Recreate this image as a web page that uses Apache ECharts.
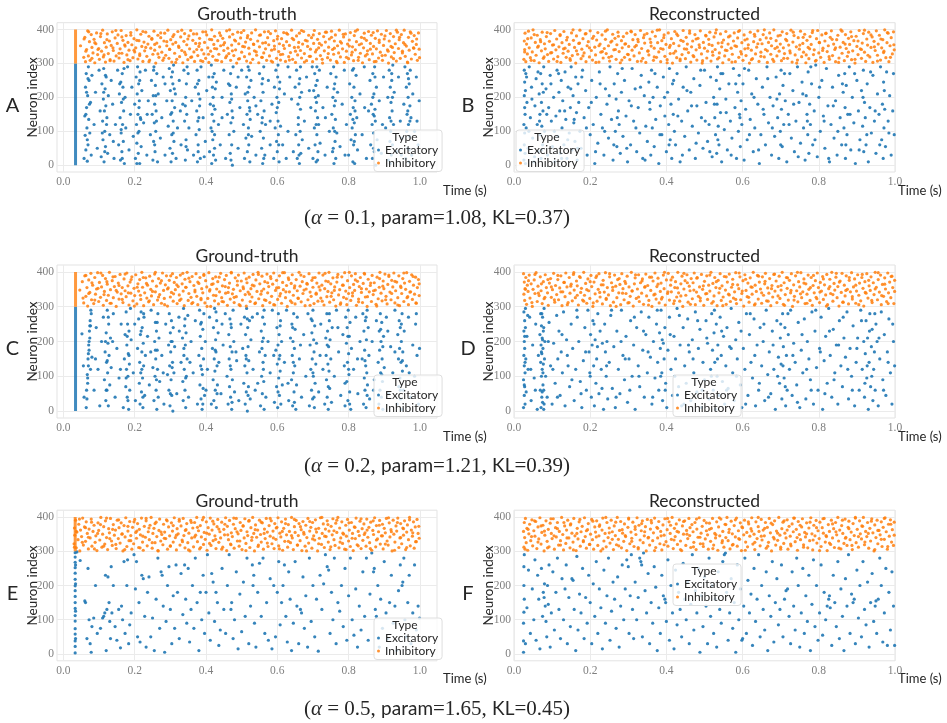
<!DOCTYPE html>
<html><head><meta charset="utf-8">
<script src="https://cdn.jsdelivr.net/npm/echarts@6.0.0/dist/echarts.min.js"></script>
<style>html,body{margin:0;padding:0;background:#fff}#c{width:947px;height:723px}</style>
</head><body><div id="c"></div><script>
// ---------- data (time in ms, neuron index), flattened pairs ----------
const xTicks = [0, 0.2, 0.4, 0.6, 0.8, 1.0];
const yTicks = [0, 100, 200, 300, 400];
const panelTitles = ['Grouth-truth','Reconstructed','Ground-truth','Reconstructed','Ground-truth','Reconstructed'];
const panelLetters = ['A','B','C','D','E','F'];
const alphas = [0.1, 0.2, 0.5];
const params = [1.08, 1.21, 1.65];
const kls = [0.37, 0.39, 0.45];
// synchronous burst column: [time ms, excitatory from, excitatory to, inhibitory from, inhibitory to]
const burstA = [34, 0, 300, 300, 400];
const burstC = [34, 0, 300, 300, 400];
const burstE = [33, null, null, 300, 400];

const aInh = [48,352,57,318,60,377,62,305,65,341,68,396,70,322,73,364,75,309,78,385,80,347,83,331,86,371,88,302,91,358,93,390,96,326,99,344,101,312,104,379,107,336,110,398,112,319,115,361,118,304,120,348,123,387,126,329,129,366,131,311,134,353,137,393,140,338,142,307,145,375,148,322,151,359,153,384,156,316,159,343,162,397,164,330,167,368,170,303,173,351,176,382,178,325,181,362,184,339,187,308,189,391,192,355,195,317,198,373,200,334,203,346,206,399,209,313,212,367,214,328,217,386,220,350,223,306,226,363,228,337,231,392,234,321,237,357,240,380,242,310,245,345,248,371,251,327,254,395,256,339,259,301,262,360,265,383,268,318,270,349,273,376,276,333,279,309,282,366,284,389,287,324,290,352,293,398,296,315,298,341,301,370,304,304,307,357,310,385,312,330,315,362,318,312,321,394,324,347,326,320,329,378,332,338,335,302,338,365,340,388,343,326,346,355,349,311,352,381,354,343,357,397,360,319,363,368,366,334,368,306,371,359,374,387,377,323,380,350,382,374,385,308,388,340,391,393,394,328,396,362,399,315,402,384,405,346,408,303,410,371,413,336,416,399,419,321,422,356,424,380,427,310,430,343,433,367,436,327,438,390,441,352,444,305,447,374,450,338,452,361,455,317,458,396,461,345,464,329,466,378,469,309,472,354,475,386,478,323,480,369,483,340,486,301,489,392,492,358,494,314,497,375,500,333,503,350,506,397,508,320,511,363,514,307,517,382,520,345,522,328,525,371,528,390,531,312,534,356,536,337,539,399,542,324,545,366,548,302,550,349,553,384,556,318,559,360,562,331,564,393,567,343,570,309,573,376,576,355,578,322,581,388,584,339,587,304,590,367,592,351,595,396,598,315,601,380,604,335,606,358,609,310,612,373,615,327,618,391,620,344,623,306,626,364,629,386,632,320,634,353,637,332,640,398,643,312,646,370,648,347,651,303,654,381,657,325,660,362,662,389,665,338,668,316,671,357,674,394,676,329,679,368,682,308,685,350,688,383,690,321,693,342,696,376,699,305,702,359,704,397,707,334,710,313,713,371,716,346,718,388,721,323,724,354,727,301,730,379,732,337,735,363,738,392,741,317,744,348,746,372,749,310,752,395,755,341,758,327,760,366,763,384,766,306,769,352,772,331,774,398,777,319,780,360,783,343,786,378,788,303,791,387,794,336,797,357,800,314,802,369,805,391,808,325,811,349,814,308,816,382,819,340,822,364,825,399,828,318,830,355,833,330,836,377,839,302,842,346,844,389,847,322,850,368,853,337,856,394,858,311,861,359,864,383,867,328,870,350,872,305,875,374,878,343,881,396,884,316,886,362,889,333,892,386,895,309,898,353,900,372,903,324,906,397,909,340,912,301,914,366,917,388,920,319,923,347,926,379,928,332,931,358,934,307,937,392,940,344,942,370,945,315,948,385,951,336,954,361,956,398,959,321,962,351,965,304,968,377,970,339,973,393,976,313,979,365,982,346,984,382,987,327,990,356,993,309,996,390,998,342];
const aInh2 = [999,317,991,372,983,345,975,389,966,302,958,356,951,331,943,377,934,398,926,314,919,350,911,336,902,381,894,323,886,369,877,306,869,391,861,342,852,327,844,374,836,358,827,309,819,395,810,333,802,351,794,318,785,386,777,364,768,302,760,345,752,377,743,329,735,392,726,312,718,359,710,340,701,384,693,321,684,366,676,304,668,397,659,348,651,336,642,374,634,310,626,389,617,353,609,326,600,372,592,342,583,307,575,394,567,361,558,318,550,383,541,334,533,357,525,302,516,376,508,349,499,391,491,313,483,366,474,337,466,399,458,322,449,355,441,382,432,309,424,344,416,370,407,327,399,393,391,306,382,359,374,341,365,387,357,318,349,372,340,333,332,398,323,351,315,303,307,379,298,342,290,364,282,316,273,390,265,328,256,356,248,374,240,305,231,347,223,394,214,323,206,368,198,339,189,383,181,311,172,355,164,378,156,330,147,397,139,346,131,308,122,370,114,325,105,388,97,341,88,361,80,315,71,393,63,336,58,372];

const aExc = [58,20,60,145,61,88,62,230,63,45,64,270,65,170,66,110,67,12,68,205,69,60,70,290,71,135,72,250,74,95,76,185,78,30,80,265,86,120,90,215,95,50,100,280,103,160,106,25,108,240,110,130,111,75,112,195,113,285,114,10,115,160,116,100,117,225,118,55,119,175,120,260,122,140,124,35,126,205,130,90,134,250,138,180,142,20,146,120,152,280,155,60,157,210,159,140,160,15,161,245,162,95,163,185,164,40,165,270,166,120,167,230,168,70,169,160,171,5,173,200,175,110,180,290,184,45,188,150,192,230,196,85,200,180,202,20,204,260,205,120,206,65,207,210,208,290,209,150,210,35,211,240,212,100,213,190,214,5,215,275,216,140,218,55,220,220,225,125,230,280,234,30,238,190,244,90,247,250,249,150,251,15,252,205,253,70,254,290,255,125,256,180,257,40,258,235,259,100,260,160,262,270,264,10,266,210,272,80,276,140,280,260,285,30,290,190,294,115,297,285,299,50,300,220,301,150,302,10,303,260,304,90,305,190,306,35,307,240,308,130,309,295,310,70,312,170,314,210,316,20,320,110,325,250,330,60,335,180,338,280,340,130,342,15,343,200,344,75,345,240,346,150,348,45,350,270,352,110,360,190,365,30,370,230,372,90,374,160,375,280,376,10,377,130,378,60,379,210,380,250,381,105,382,175,384,20,386,290,392,140,398,70,402,220,408,260,410,40,412,180,414,110,415,295,416,5,417,150,418,230,419,75,420,200,421,30,422,130,423,270,424,90,425,165,427,15,429,245,435,120,440,60,445,200,450,280,455,20,460,150,463,240,465,90,467,185,468,35,469,270,470,125,471,210,472,60,473,160,474,0,476,290,478,100,485,230,490,50,495,170,500,280,505,120,508,20,510,210,512,80,514,260,515,150,516,40,517,190,518,290,519,110,520,60,521,230,522,170,523,10,524,135,526,250,528,85,535,200,540,30,545,150,550,270,552,100,554,190,556,50,557,240,558,140,559,5,560,215,561,80,562,290,563,160,565,30,567,120,575,250,580,60,585,180,590,20,592,230,594,110,596,280,597,155,598,70,599,200,600,40,601,260,602,130,603,90,604,185,605,10,607,245,609,115,615,60,620,210,625,20,630,100,635,260,640,195,645,40,650,230,652,90,654,280,656,20,658,180,659,120,660,60,661,240,662,5,663,200,664,100,665,290,666,35,668,215,670,75,676,130,682,260,688,50,694,170,698,290,700,20,702,220,704,110,705,270,706,60,707,160,708,235,709,10,710,185,711,90,712,250,713,140,714,40,715,205,716,120,718,280,720,65,728,170,734,30,740,230,746,100,750,270,753,150,755,40,756,200,757,110,758,290,759,5,760,175,761,240,762,70,763,135,764,20,765,260,767,95,769,215,776,55,782,180,788,280,794,120,800,30,803,240,805,150,807,75,809,200,810,110,811,280,812,10,813,170,814,60,815,230,816,125,817,5,818,190,819,90,821,265,823,140,825,45,832,210,838,90,844,290,850,20,856,160,860,250,862,60,864,180,866,120,867,20,868,270,869,150,870,95,871,210,872,40,873,290,874,165,875,130,876,0,878,230,880,75,886,190,892,35,898,260,904,110,910,200,912,15,914,280,915,140,916,70,917,230,918,100,919,185,920,30,921,250,922,160,923,60,924,295,926,120,928,215,935,40,940,260,945,130,950,80,955,180,958,290,960,20,962,230,963,100,964,150,965,270,966,50,967,200,968,120,969,10,970,240,971,85,972,175,973,280,975,140,977,30,980,210,985,100,990,260,995,60,998,190];
const aExc2 = [63,150,65,215,67,75,69,255,73,180,109,95,113,215,116,40,118,265,121,120,158,240,162,105,165,20,168,195,170,285,206,5,209,95,212,170,214,250,217,135,253,280,256,60,259,205,261,130,304,155,306,275,308,95,311,225,342,175,344,55,347,290,376,240,378,40,380,140,383,195,417,100,419,260,421,175,424,50,426,225,467,235,470,15,472,195,475,140,517,215,519,90,521,280,523,160,557,125,559,255,562,20,600,170,602,295,604,60,606,225,659,140,661,30,663,255,665,165,707,200,709,120,711,290,713,15,757,50,759,225,761,100,763,190,812,135,814,285,816,70,818,160,868,200,870,50,872,145,874,260,917,5,919,130,921,270,923,200,966,160,968,255,970,45,972,130,140,70,235,150,285,240,328,160,395,25,445,140,490,260,540,175,580,130,630,290,690,220,735,140,790,30,845,170,895,120,948,30,992,130];

const bInh = [26,312,27,366,28,341,29,389,31,305,33,357,35,328,38,395,40,346,43,317,45,375,48,334,50,399,53,308,56,362,58,324,61,383,64,351,66,302,69,370,72,337,74,392,77,315,80,358,82,343,85,379,88,326,91,306,93,365,96,388,99,332,101,354,104,313,107,397,110,340,112,372,115,320,118,349,121,385,123,303,126,361,129,330,131,394,134,345,137,318,140,377,142,336,145,356,148,309,151,390,153,323,156,368,159,347,162,301,164,381,167,327,170,359,173,398,176,314,178,342,181,373,184,331,187,387,189,305,192,352,195,364,198,319,200,396,203,338,206,310,209,380,212,348,214,325,217,369,220,391,223,304,226,357,228,333,231,384,234,316,237,344,240,371,242,329,245,399,248,352,251,307,254,363,256,321,259,386,262,340,265,374,268,312,270,355,273,392,276,335,279,302,282,367,284,346,287,379,290,318,293,358,296,389,298,327,301,350,304,311,307,395,310,339,312,370,315,322,318,385,321,353,324,306,326,364,329,331,332,397,335,344,338,315,340,376,343,360,346,303,349,388,352,337,354,325,357,372,360,351,363,393,366,309,368,345,371,380,374,318,377,361,380,334,382,399,385,305,388,367,391,342,394,384,396,321,399,356,402,311,405,390,408,347,410,329,413,373,416,301,419,359,422,394,424,336,427,317,430,382,433,352,436,308,438,368,441,326,444,397,447,343,450,314,452,377,455,357,458,332,461,389,464,304,466,349,469,366,472,320,475,385,478,340,480,310,483,374,486,355,489,396,492,328,494,301,497,362,500,345,503,383,506,316,508,336,511,371,514,392,517,307,520,353,522,324,525,378,528,341,531,399,534,313,536,360,539,331,542,387,545,349,548,302,550,369,553,322,556,394,559,338,562,357,564,311,567,381,570,345,573,327,576,366,578,390,581,305,584,350,587,375,590,318,592,397,595,335,598,361,601,309,604,384,606,343,609,323,612,372,615,355,618,301,620,392,623,339,626,314,629,364,632,380,634,328,637,348,640,396,643,306,646,370,648,333,651,358,654,385,657,319,660,341,662,375,665,303,668,362,671,390,674,327,676,352,679,312,682,399,685,344,688,367,690,322,693,381,696,336,699,357,702,308,704,393,707,346,710,329,713,371,716,388,718,315,721,354,724,337,727,398,730,304,732,363,735,382,738,325,741,349,744,310,746,376,749,342,752,395,755,320,758,359,760,333,763,386,766,302,769,368,772,347,774,314,777,379,780,356,783,391,786,326,788,340,791,307,794,373,797,397,800,331,802,361,805,318,808,384,811,345,814,303,816,366,819,389,822,335,825,352,828,312,830,377,833,396,836,323,839,357,842,341,844,305,847,370,850,383,853,316,856,348,858,399,861,330,864,362,867,308,870,385,872,344,875,321,878,374,881,356,884,393,886,311,889,337,892,367,895,301,898,380,900,350,903,326,906,397,909,343,912,315,914,360,917,388,920,333,923,306,926,372,928,354,931,392,934,319,937,347,940,378,942,303,945,365,948,338,951,396,954,324,956,357,959,383,962,310,965,346,968,370,970,332,973,399,976,317,979,361,982,389,984,305,987,352,990,376,993,328,996,393,998,340];
const bInh2 = [997,355,988,318,980,391,971,336,963,372,954,307,946,349,937,384,929,324,920,398,912,341,903,366,895,312,886,379,878,333,869,357,861,395,852,303,844,346,835,371,827,320,818,388,810,338,801,362,793,309,784,397,776,343,767,325,759,377,750,354,742,301,733,392,725,331,716,367,708,315,699,383,691,348,682,306,674,374,665,337,657,399,648,321,640,358,631,386,623,311,614,345,606,369,597,328,589,394,580,352,572,304,563,378,555,339,546,361,538,317,529,390,521,334,512,356,504,381,495,308,487,347,478,372,470,323,461,396,453,342,444,365,436,313,427,387,419,330,410,353,402,302,393,376,385,344,376,398,368,319,359,362,351,336,342,384,334,307,325,371,317,349,308,393,300,326,291,357,283,310,274,380,266,341,257,366,249,318,240,395,232,335,223,352,215,303,206,374,198,346,189,388,181,322,172,360,164,337,155,399,147,314,138,369,130,343,121,382,113,306,104,355,96,331,87,391,79,319,70,364,62,348,53,385,45,309,36,373,28,334];

const bExc = [26,15,26,120,27,205,27,60,27,280,28,170,28,95,28,245,29,35,29,150,30,220,30,5,31,270,32,110,34,185,37,50,40,290,43,140,46,230,49,80,52,10,55,175,58,255,61,120,64,40,66,210,68,150,69,90,70,270,71,20,72,185,73,115,74,240,75,60,76,160,78,290,80,100,84,225,88,30,91,170,95,265,98,130,101,55,104,200,107,10,110,145,113,280,115,85,118,215,120,160,122,35,124,250,126,110,128,190,131,60,134,275,136,135,139,20,142,230,145,95,148,170,150,290,152,45,155,205,157,125,160,70,162,260,164,155,166,15,168,240,170,185,173,100,176,50,180,280,184,140,188,220,192,30,196,170,200,90,204,250,208,120,212,5,216,200,220,65,224,275,228,150,232,110,236,30,240,225,244,180,248,80,252,290,256,135,260,15,263,240,266,100,268,195,270,55,272,270,274,160,276,120,279,35,282,215,286,85,290,250,294,145,298,10,302,190,306,60,310,285,314,130,318,225,322,40,326,170,330,95,334,265,338,20,342,205,346,115,350,70,354,245,357,165,359,30,361,280,363,110,365,200,368,55,372,135,376,230,380,5,384,175,388,90,392,260,396,145,400,40,403,215,406,120,408,285,410,75,412,180,414,20,416,240,418,150,421,100,424,60,428,270,432,195,436,10,440,130,444,230,448,85,452,290,456,160,460,45,464,215,468,115,472,255,476,20,480,175,484,95,488,235,492,140,496,50,500,280,504,185,508,70,512,120,516,260,520,25,524,200,527,140,529,90,531,250,532,35,533,180,534,290,536,115,538,60,540,225,542,155,545,10,548,270,552,105,556,195,560,45,564,240,568,130,572,80,576,285,580,170,584,20,587,215,589,100,591,265,592,150,594,55,596,190,598,120,601,240,604,15,608,165,612,75,616,280,620,135,624,210,628,40,632,110,636,255,640,180,644,5,648,90,652,230,656,150,660,60,664,290,668,125,672,200,676,30,680,175,684,85,688,260,692,140,695,20,697,210,699,100,701,280,702,165,704,55,706,235,708,120,712,190,716,10,720,150,724,270,728,80,732,220,736,40,740,130,744,290,748,185,752,65,756,245,760,110,764,15,767,205,769,150,771,90,772,275,774,35,776,180,778,120,781,240,784,60,788,160,792,295,796,25,800,200,804,100,808,250,812,145,816,50,820,285,824,175,828,10,832,120,836,230,840,80,844,190,848,30,852,265,856,140,860,60,864,215,866,110,868,270,869,170,870,20,872,235,874,90,876,150,880,290,884,45,888,200,892,125,896,5,900,250,904,160,908,75,912,220,915,115,917,280,918,40,920,185,922,140,924,60,927,240,930,10,934,170,938,95,942,265,946,130,950,35,954,210,958,150,962,290,965,75,967,180,969,20,970,245,971,110,973,165,975,55,978,275,982,130,986,205,990,30,994,160,998,90];
const bExc2 = [33,260,39,100,47,195,54,25,63,275,67,130,72,45,77,215,86,150,97,240,106,100,117,270,125,20,133,160,141,75,149,225,158,135,167,50,178,260,190,110,203,185,214,40,226,240,238,100,250,205,262,60,271,140,284,285,296,50,308,175,320,110,332,230,344,15,356,185,370,270,383,90,395,200,407,60,419,250,430,145,442,30,454,220,466,175,478,65,490,280,502,130,514,40,526,180,535,75,543,270,557,155,570,30,582,240,593,140,605,285,618,90,630,200,642,45,654,165,666,255,678,110,690,195,700,60,710,270,722,120,734,180,746,25,758,210,770,130,779,290,790,75,802,230,814,130,826,20,838,175,850,100,862,240,871,60,882,150,894,270,906,45,916,200,926,90,936,275,948,160,960,60,972,220,984,95,996,270];

const cInh = [46,348,53,372,57,311,60,389,63,330,66,355,68,302,71,377,74,341,77,396,79,320,82,362,85,309,88,384,90,336,93,351,96,398,99,315,101,370,104,327,107,357,110,390,112,304,115,344,118,381,121,318,123,365,126,333,129,399,132,349,134,310,137,375,140,326,143,358,145,387,148,301,151,342,154,368,156,322,159,393,162,337,165,355,167,312,170,380,173,346,176,329,178,397,181,360,184,305,187,371,189,339,192,386,195,317,198,353,200,332,203,392,206,308,209,366,211,345,214,378,217,321,220,399,222,356,225,303,228,340,231,383,234,325,236,362,239,314,242,388,245,350,247,331,250,374,253,306,256,394,258,343,261,359,264,319,267,381,270,335,272,368,275,310,278,397,281,347,283,324,286,363,289,389,292,302,294,354,297,376,300,328,303,341,306,395,308,316,311,370,314,349,317,384,319,309,322,358,325,334,328,391,330,322,333,366,336,345,339,303,341,379,344,356,347,399,350,318,352,338,355,372,358,327,361,387,363,312,366,361,369,348,372,395,374,330,377,306,380,367,383,384,386,320,388,352,391,340,394,393,397,311,399,375,402,357,405,324,408,398,410,345,413,301,416,364,419,381,421,333,424,317,427,386,430,351,433,372,435,308,438,343,441,396,444,326,446,360,449,314,452,378,455,339,457,390,460,304,463,355,466,368,468,322,471,399,474,337,477,350,479,312,482,383,485,329,488,362,491,391,493,306,496,346,499,374,502,319,504,357,507,397,510,335,513,302,515,369,518,342,521,385,524,315,526,352,529,328,532,393,535,360,537,309,540,377,543,344,546,399,548,323,551,366,554,336,557,388,559,303,562,351,565,372,568,318,571,394,573,340,576,358,579,312,582,381,584,330,587,365,590,397,593,305,595,347,598,376,601,321,604,355,606,389,609,338,612,310,615,370,617,349,620,398,623,326,626,361,628,301,631,383,634,343,637,317,639,367,642,392,645,333,648,354,650,308,653,378,656,346,659,324,661,399,664,359,667,314,670,372,672,338,675,387,678,303,681,351,684,365,686,320,689,395,692,342,695,330,697,376,700,356,703,309,706,384,709,336,711,368,714,316,717,397,720,348,722,325,725,362,728,391,731,305,733,352,736,374,739,329,742,344,745,399,747,313,750,366,753,340,756,383,758,320,761,357,764,302,767,371,770,393,772,334,775,349,778,311,781,386,783,362,786,327,789,398,792,345,795,306,797,375,800,338,803,355,806,318,808,389,811,331,814,364,817,347,819,395,822,304,825,373,828,322,830,358,833,384,836,341,839,312,841,367,844,396,847,328,850,351,852,301,855,379,858,343,861,361,864,315,866,390,869,335,872,369,875,348,877,307,880,385,883,323,886,356,888,399,891,339,894,317,897,374,899,352,902,394,905,330,908,308,910,364,913,387,916,342,919,320,921,376,924,357,927,397,930,311,932,346,935,371,938,326,941,389,943,303,946,359,949,338,952,381,955,315,957,368,960,350,963,398,966,329,968,306,971,373,974,343,977,392,979,321,982,362,985,336,988,385,990,310,993,355,996,378,998,332];
const cInh2 = [998,366,989,311,981,387,972,342,964,326,955,397,947,355,938,305,930,373,921,338,913,391,904,320,896,359,887,381,879,302,870,346,862,368,853,329,845,394,836,352,828,314,819,377,811,340,802,399,794,323,785,362,777,307,768,385,760,347,751,330,743,372,734,396,726,316,717,357,709,339,700,383,692,304,683,367,675,348,666,391,658,325,649,360,641,312,632,378,624,343,615,398,607,331,598,354,590,306,581,387,573,369,564,320,556,345,547,393,539,311,530,362,522,336,513,380,505,352,496,303,488,374,479,327,471,397,462,341,454,358,445,315,437,385,428,332,420,366,411,349,403,301,394,390,386,324,377,371,369,343,360,309,352,382,343,356,335,396,326,318,318,363,309,337,301,389,292,351,284,306,275,375,267,328,258,399,250,344,241,317,233,367,224,384,216,333,207,356,199,302,190,378,182,340,173,394,165,321,156,361,148,347,139,386,131,310,122,372,114,335,105,397,97,353,88,319,80,369,71,338,63,390,55,325];

const cExc = [52,222,56,130,58,40,64,10,65,60,66,35,67,105,68,80,69,150,70,130,71,190,72,175,73,230,74,210,75,260,76,245,77,290,78,280,80,155,86,60,92,240,97,120,102,15,107,200,112,270,115,90,117,170,119,30,120,225,121,140,122,60,123,290,124,110,125,195,126,15,127,250,128,160,130,75,132,210,134,125,140,280,145,40,150,180,156,95,162,250,168,10,171,150,173,220,175,70,176,285,177,120,178,190,179,40,180,250,181,100,182,165,183,5,184,230,185,135,186,60,188,295,190,205,196,110,202,30,208,180,211,265,213,80,214,140,215,20,216,220,217,110,218,285,219,55,220,170,221,240,222,95,223,10,224,195,225,130,226,270,228,45,230,160,236,215,241,75,246,290,251,125,254,30,256,200,257,100,258,255,259,150,260,60,261,230,262,5,263,175,264,120,265,280,266,40,268,210,270,85,276,160,282,20,287,250,292,105,295,190,296,60,297,280,298,130,299,15,300,225,301,170,302,90,303,260,304,45,305,200,306,140,307,0,308,240,310,110,312,185,318,50,324,270,330,140,334,210,335,85,336,30,337,295,338,160,339,120,340,245,341,60,342,190,343,10,344,225,345,100,347,150,349,275,351,40,358,200,364,110,370,260,376,20,380,160,382,290,383,75,384,215,385,130,386,35,387,255,388,180,389,5,390,105,391,235,392,65,393,150,394,280,396,45,398,200,404,120,410,270,415,20,418,180,420,90,421,240,422,30,423,150,424,295,425,115,426,60,427,205,428,170,429,10,430,260,431,130,432,75,434,225,436,140,442,50,448,190,454,280,459,100,462,20,464,220,465,150,466,70,467,265,468,185,469,40,470,120,471,240,472,5,473,170,474,90,476,290,478,200,480,55,486,145,492,30,498,250,503,180,506,80,508,270,509,130,510,20,511,220,512,160,513,55,514,295,515,110,516,0,517,240,518,185,519,70,520,145,522,260,524,35,526,205,532,120,538,60,544,280,550,170,553,15,555,230,556,100,557,180,558,50,559,270,560,140,561,210,562,85,563,5,564,250,566,160,568,40,574,200,580,110,586,290,592,25,596,175,598,70,599,240,600,135,601,10,602,190,603,280,604,95,605,220,606,45,607,160,608,115,609,260,610,20,612,200,614,75,620,140,626,290,632,30,637,210,640,90,641,250,642,160,643,15,644,200,645,110,646,280,647,55,648,180,649,130,650,235,652,5,654,75,656,270,662,150,668,40,674,220,680,100,686,280,690,15,692,190,694,120,695,265,696,60,697,225,698,150,699,35,700,290,701,100,702,205,703,170,704,10,705,245,706,80,708,135,710,195,716,55,722,250,728,120,733,20,736,210,737,160,738,90,739,280,740,40,741,230,742,135,743,5,744,185,745,115,746,260,747,65,748,205,750,150,752,25,754,240,760,100,766,290,772,170,778,45,784,220,788,130,790,15,792,270,794,195,795,85,796,240,797,140,798,30,799,290,800,165,801,105,802,215,803,55,804,255,806,5,808,180,814,120,820,270,826,50,832,200,838,150,840,280,842,20,843,230,844,95,845,175,846,60,847,260,848,130,849,10,850,205,851,110,852,290,853,75,855,240,857,160,859,35,866,200,872,90,878,260,883,140,885,20,886,230,887,175,888,60,889,280,890,110,891,200,892,40,893,255,894,150,895,85,896,5,898,215,900,125,906,270,912,50,918,185,924,110,930,290,936,20,938,220,940,150,941,70,942,260,943,180,944,95,945,240,946,35,947,140,948,200,949,5,950,280,951,115,952,170,954,60,956,230,962,130,968,270,974,40,980,190,985,100,988,250,992,160,996,20,999,180];
const cExc2 = [68,95,70,165,72,200,74,245,76,120,118,200,120,60,123,145,126,270,176,95,179,215,181,30,184,160,218,230,220,120,223,40,225,280,258,175,261,90,263,255,300,50,302,200,305,125,338,180,341,265,343,95,385,250,388,120,391,20,426,175,428,285,431,50,468,130,470,250,473,25,513,150,516,265,518,45,558,200,561,120,563,290,602,55,605,150,608,245,643,240,645,140,648,25,698,260,700,110,703,40,740,190,743,70,746,280,798,215,800,120,803,20,846,145,849,270,852,45,890,235,893,105,896,185,945,60,948,250,951,145,90,150,138,200,160,120,200,250,245,170,280,110,325,230,355,140,400,60,445,250,484,170,530,270,545,80,590,160,630,80,665,190,720,160,770,240,790,80,825,150,870,60,910,230,930,170,970,110,990,280];

const dInh = [25,395,26,336,27,371,28,318,29,352,31,384,33,307,35,362,37,344,40,391,42,325,45,366,48,301,50,350,53,377,55,338,58,398,61,315,63,359,66,332,69,386,71,346,74,309,77,372,79,323,82,392,85,355,88,340,90,304,93,368,96,381,98,327,101,349,104,396,107,313,109,361,112,335,115,378,117,320,120,354,123,389,126,303,128,343,131,370,134,329,136,397,139,357,142,312,145,384,147,339,150,365,153,317,156,393,158,348,161,326,164,374,166,360,169,305,172,387,175,341,177,353,180,319,183,399,185,333,188,367,191,310,194,380,196,346,199,324,202,390,204,358,207,301,210,371,213,337,215,384,218,316,221,350,223,395,226,328,229,363,232,308,234,376,237,342,240,398,242,321,245,355,248,334,251,386,253,303,256,369,259,347,261,313,264,391,267,359,270,326,272,378,275,340,278,364,280,306,283,395,286,352,289,320,291,373,294,338,297,388,299,311,302,357,305,330,308,399,310,345,313,302,316,366,318,383,321,324,324,351,327,392,329,315,332,369,335,339,337,380,340,307,343,356,346,394,348,331,351,361,354,318,356,385,359,347,362,301,365,374,367,334,370,397,373,322,375,358,378,382,381,311,384,344,386,368,389,327,392,391,394,352,397,305,400,377,403,338,405,396,408,319,411,362,413,343,416,385,419,309,422,355,424,372,427,328,430,399,432,340,435,316,438,366,441,388,443,301,446,351,449,375,451,333,454,392,457,313,460,359,462,346,465,381,468,323,470,369,473,397,476,306,479,342,481,384,484,330,487,357,489,317,492,393,495,350,498,304,500,373,503,337,506,389,508,321,511,362,514,345,517,399,519,310,522,367,525,331,527,384,530,355,533,303,536,376,538,340,541,395,544,318,546,360,549,328,552,387,555,348,557,307,560,371,563,336,565,394,568,315,571,356,574,379,576,325,579,343,582,398,584,309,587,363,590,352,593,386,595,320,598,338,601,375,603,302,606,392,609,347,612,329,614,368,617,313,620,383,622,357,625,336,628,399,631,305,633,362,636,344,639,390,641,322,644,371,647,351,650,310,652,386,655,333,658,366,660,396,663,317,666,354,669,339,671,381,674,303,677,361,679,328,682,393,685,345,688,374,690,312,693,358,696,388,698,324,701,348,704,399,707,307,709,369,712,335,715,384,717,353,720,319,723,376,726,340,728,395,731,301,734,363,736,330,739,389,742,346,745,314,747,372,750,357,753,398,755,326,758,343,761,380,764,309,766,366,769,336,772,391,774,350,777,318,780,384,783,304,785,361,788,340,791,375,793,327,796,397,799,355,802,312,804,370,807,345,810,387,812,321,815,363,818,334,821,393,823,306,826,352,829,379,831,338,834,399,837,316,840,367,842,348,845,385,848,326,850,358,853,302,856,374,859,341,861,396,864,313,867,362,869,331,872,389,875,350,878,308,880,376,883,343,886,398,888,322,891,357,894,380,897,310,899,345,902,392,905,333,907,368,910,317,913,384,916,353,918,302,921,372,924,339,926,395,929,325,932,360,935,347,937,386,940,312,943,369,945,335,948,399,951,356,954,320,956,378,959,342,962,391,964,306,967,364,970,330,973,383,975,351,978,315,981,397,983,340,986,371,989,326,992,388,994,355,997,309,999,376];
const dInh2 = [999,344,990,387,982,309,973,365,965,332,956,398,948,351,939,318,931,376,922,341,914,393,905,306,897,362,888,329,880,384,871,347,863,313,854,371,846,396,837,335,829,358,820,302,812,380,803,342,795,323,786,390,778,355,769,310,761,368,752,337,744,399,735,319,727,347,718,383,710,304,701,361,693,331,684,394,676,352,667,316,659,373,650,340,642,388,633,308,625,356,616,327,608,379,599,345,591,397,582,321,574,364,565,334,557,386,548,303,540,353,531,372,523,315,514,391,506,338,497,360,489,325,480,382,472,348,463,307,455,369,446,396,438,331,429,354,421,317,412,377,404,343,395,399,387,322,378,365,370,336,361,385,353,305,344,358,336,374,327,328,319,392,310,346,302,312,293,367,285,339,276,381,268,301,259,356,251,395,242,324,234,363,225,341,217,389,208,311,200,372,191,349,183,316,174,384,166,333,157,398,149,359,140,306,132,370,123,343,115,390,106,320,98,357,89,378,81,327,72,366,64,339,55,393,47,312,38,375,30,350];

const dExc = [25,10,25,90,26,160,26,230,26,285,27,45,27,130,27,200,28,260,28,70,28,180,29,20,29,110,30,240,30,295,31,150,32,55,34,215,37,120,41,270,45,30,49,190,53,95,57,250,61,5,64,160,68,220,69,60,70,280,70,140,71,10,71,190,72,100,72,245,73,40,73,165,74,210,74,120,75,25,75,270,76,75,76,180,77,230,77,135,78,5,78,60,79,295,80,150,81,200,83,100,87,40,92,255,96,130,100,20,104,195,108,80,112,275,115,150,118,230,121,45,124,170,127,110,130,285,134,15,138,205,142,130,146,70,150,250,154,180,158,30,162,120,166,270,170,200,174,85,178,10,182,145,186,240,190,60,194,290,197,170,199,110,201,220,203,40,205,190,207,260,209,130,211,15,213,205,215,80,217,150,220,280,223,50,226,230,229,120,232,195,235,5,238,250,240,170,242,100,244,200,246,35,250,140,254,275,258,65,262,185,266,10,270,230,274,120,278,50,282,290,286,160,290,90,294,215,298,25,302,150,306,260,310,100,314,190,318,5,322,240,326,130,330,70,334,285,338,175,342,40,346,220,350,110,354,270,358,155,362,20,366,200,370,95,374,250,377,140,380,60,382,225,384,180,386,290,388,110,390,30,392,195,394,150,396,240,398,80,401,10,404,175,408,270,412,120,416,45,420,215,424,150,428,295,432,70,436,190,440,15,444,240,448,130,452,80,456,265,460,170,464,30,468,205,472,110,476,285,480,55,484,180,488,235,492,10,496,140,500,90,504,260,508,195,512,35,516,120,519,280,521,175,523,60,525,225,527,140,529,5,531,250,533,100,535,190,538,45,541,270,544,160,547,85,550,215,553,20,556,130,559,240,562,65,566,185,570,295,574,110,578,30,582,205,586,150,590,255,594,75,598,10,602,180,606,120,610,280,614,45,618,220,622,140,626,95,630,265,634,15,638,190,642,60,646,240,650,130,654,200,658,30,662,290,666,105,670,170,674,50,678,230,682,120,686,5,690,260,694,155,697,80,699,210,701,135,703,35,705,280,707,185,709,95,711,240,713,15,715,160,717,60,720,220,723,120,726,290,730,45,734,195,738,140,742,75,746,255,750,10,754,175,758,110,762,265,766,35,770,200,774,150,778,90,782,285,786,20,790,230,794,125,798,60,802,180,806,270,810,5,814,145,818,215,822,80,826,295,830,160,834,40,838,235,842,110,846,190,850,20,854,260,858,130,862,70,866,210,870,155,874,285,878,35,882,180,886,100,890,245,894,15,898,140,902,210,906,60,910,290,914,120,918,200,920,40,922,165,924,260,926,95,928,210,930,5,932,140,934,280,936,70,938,185,940,235,942,30,944,120,946,170,948,60,950,250,953,200,956,15,960,150,964,285,968,90,972,220,976,45,980,170,984,265,988,110,992,20,996,200,999,130];
const dExc2 = [27,75,28,215,29,140,72,170,73,280,74,55,75,205,76,110,78,240,79,20,36,275,44,120,56,60,90,200,102,120,114,40,126,220,140,160,152,90,165,290,176,50,188,170,200,100,210,250,219,185,231,65,243,130,256,290,268,40,281,200,292,150,304,60,316,270,328,100,340,230,352,170,364,40,376,290,385,100,389,205,397,60,410,220,422,100,434,275,446,20,458,190,470,150,482,260,494,60,506,210,518,100,526,290,534,150,545,230,558,60,570,180,584,100,596,230,608,20,620,280,632,160,644,80,656,250,668,40,680,190,692,100,700,250,706,130,712,70,719,280,732,160,744,25,756,220,768,120,780,60,792,290,804,170,816,50,828,230,840,90,852,190,864,270,876,120,888,60,900,180,912,260,921,80,927,130,933,230,939,100,947,280,958,210,970,60,982,140,994,250];

const eInh = [30,322,31,368,32,347,34,391,36,310,38,356,41,334,43,379,46,301,48,362,51,343,54,397,56,318,59,371,62,329,64,386,67,352,70,307,72,365,75,339,78,394,80,315,83,358,86,376,89,326,91,345,94,302,97,383,99,361,102,333,105,399,108,312,110,350,113,372,116,321,118,389,121,340,124,305,127,366,129,354,132,396,135,330,137,317,140,378,143,347,146,362,148,308,151,391,154,337,156,369,159,324,162,383,165,351,167,301,170,375,173,342,175,398,178,314,181,359,184,331,186,387,189,346,192,306,194,370,197,322,200,393,203,355,205,338,208,381,211,311,213,364,216,348,219,397,222,327,224,303,227,373,230,341,232,389,235,316,238,357,241,334,243,376,246,399,249,309,251,352,254,367,257,325,260,385,262,343,265,302,268,361,270,394,273,330,276,349,279,319,281,379,284,356,287,337,289,392,292,306,295,371,298,345,300,315,303,383,306,359,308,327,311,398,314,340,317,304,319,366,322,351,325,388,327,318,330,374,333,333,336,396,338,346,341,310,344,363,346,381,349,325,352,353,355,301,357,390,360,339,363,368,365,313,368,384,371,347,374,399,376,328,379,360,382,307,384,375,387,342,390,392,393,320,395,355,398,335,401,386,403,303,406,369,409,350,412,397,414,317,417,362,420,331,422,380,425,345,428,308,431,372,433,393,436,326,439,357,441,339,444,385,447,312,450,364,452,348,455,398,458,302,460,373,463,334,466,390,469,321,471,354,474,343,477,379,479,309,482,366,485,396,488,330,490,351,493,315,496,384,498,361,501,305,504,374,507,339,509,395,512,323,515,357,517,346,520,388,523,311,526,369,528,332,531,399,534,352,536,301,539,377,542,341,545,362,547,318,550,391,553,349,555,327,558,383,561,306,564,365,566,337,569,396,572,356,574,314,577,375,580,344,583,389,585,322,588,359,591,308,593,381,596,335,599,370,602,398,604,316,607,353,610,342,612,386,615,303,618,367,621,329,623,394,626,348,629,312,631,378,634,358,637,325,640,399,642,339,645,305,648,372,650,355,653,390,656,318,659,346,661,381,664,331,667,363,669,302,672,387,675,350,678,315,680,376,683,340,686,396,688,324,691,359,694,370,697,309,699,384,702,345,705,333,707,392,710,356,713,301,716,367,718,338,721,398,724,320,726,352,729,380,732,311,735,365,737,343,740,389,743,327,745,359,748,305,751,373,754,348,756,395,759,334,762,317,764,382,767,355,770,399,773,310,775,368,778,339,781,386,783,323,786,350,789,306,792,376,794,344,797,393,800,330,802,362,805,314,808,384,811,352,813,302,816,371,819,337,821,397,824,319,827,358,830,346,832,388,835,308,838,366,840,332,843,380,846,354,849,315,851,394,854,341,857,370,859,325,862,385,865,303,868,361,870,349,873,398,876,313,878,375,881,336,884,357,887,390,889,321,892,345,895,379,897,307,900,367,903,354,906,396,908,330,911,318,914,383,916,342,919,363,922,301,925,391,927,350,930,327,933,374,935,359,938,397,941,311,944,339,946,381,949,322,952,368,954,347,957,389,960,305,963,356,965,377,968,334,971,399,973,316,976,362,979,344,982,386,984,309,987,371,990,328,992,393,995,352,998,338];
const eInh2 = [997,373,988,328,980,354,971,392,963,311,954,366,946,340,937,384,929,303,920,357,912,398,903,321,895,345,886,376,878,333,869,389,861,308,852,362,844,349,835,395,827,316,818,370,810,338,801,383,793,305,784,353,776,327,767,391,759,360,750,313,742,378,733,344,725,399,716,322,708,365,699,336,691,387,682,301,674,355,665,372,657,318,648,393,640,346,631,329,623,381,614,358,606,307,597,368,589,339,580,396,572,324,563,352,555,385,546,314,538,363,529,341,521,390,512,302,504,374,495,330,487,357,478,397,470,319,461,348,453,379,444,306,436,365,427,335,419,388,410,323,402,353,393,399,385,311,376,370,368,342,359,384,351,304,342,361,334,328,325,393,317,347,308,375,300,316,291,389,283,338,274,356,266,301,257,381,249,325,240,368,232,396,223,344,215,310,206,359,198,386,189,331,181,373,172,305,164,350,155,392,147,320,138,364,130,337,121,397,113,315,104,378,96,352,87,307,79,385,70,341,62,369,53,326,45,394,36,358,31,312];

const eExc = [33,3,33,22,33,38,33,58,33,74,33,96,33,112,33,133,33,150,33,168,33,185,33,199,33,218,33,236,33,252,33,268,33,283,33,296,34,45,34,125,34,205,34,260,38,298,47,273,60,155,62,150,66,45,69,250,72,100,75,30,78,5,80,80,85,105,90,200,95,60,104,75,110,105,113,110,116,120,118,230,120,10,122,130,125,225,128,150,130,95,132,45,134,255,136,120,140,200,145,80,150,40,155,130,160,18,163,140,166,100,170,270,173,60,178,200,180,275,183,30,186,85,190,120,198,290,202,190,205,270,208,50,212,150,215,35,220,230,224,220,228,110,232,20,236,180,240,225,245,50,250,105,255,10,260,160,265,280,270,75,274,240,277,230,280,140,284,5,288,95,292,200,296,255,300,130,304,30,308,170,312,75,316,260,320,180,325,45,330,235,335,115,340,260,343,160,346,90,350,250,354,35,358,130,362,200,366,75,370,280,375,150,380,10,384,180,388,100,392,230,396,60,400,180,404,290,408,120,412,40,416,235,420,210,424,95,428,180,432,150,436,25,440,70,445,250,450,130,455,60,460,200,465,290,470,130,472,150,476,45,480,100,485,240,490,15,495,175,500,65,505,210,510,110,515,280,520,30,525,140,530,260,532,200,534,230,536,90,540,20,545,180,550,265,555,110,560,280,565,60,570,150,575,40,580,220,585,15,590,200,595,50,600,180,604,270,608,85,612,150,616,200,620,260,624,110,628,35,632,240,636,160,640,10,645,90,650,270,655,140,660,30,665,130,668,120,672,225,676,75,680,170,685,20,690,280,695,95,700,200,705,50,710,160,715,8,720,230,725,130,730,205,735,290,740,255,744,245,748,60,752,180,756,100,760,280,765,30,770,150,775,125,780,200,785,80,790,250,795,40,800,170,805,280,810,100,815,55,820,190,825,20,830,140,835,70,840,240,845,110,850,280,855,40,860,175,865,295,870,240,872,250,875,130,878,110,882,200,886,20,890,160,895,75,900,270,905,120,910,45,915,150,920,230,925,90,930,140,935,10,940,185,945,260,950,200,952,210,955,280,958,100,962,50,966,150,970,230,975,30,980,120,985,260,990,70,995,140,999,105];

const fInh = [25,358,26,312,27,384,28,340,30,396,32,325,34,367,36,303,39,351,41,379,44,331,47,392,49,316,52,360,55,344,57,387,60,308,63,371,65,336,68,398,71,321,73,355,76,376,79,301,81,347,84,389,87,329,90,364,92,313,95,382,98,352,100,337,103,395,106,306,109,369,111,342,114,384,117,318,119,358,122,331,125,399,128,349,130,304,133,374,136,323,138,362,141,391,144,339,147,310,149,380,152,353,155,327,157,396,160,345,163,302,166,367,168,336,171,386,174,315,176,357,179,373,182,328,185,398,187,343,190,309,193,363,195,381,198,320,201,350,204,393,206,334,209,306,212,371,214,356,217,389,220,317,223,345,225,377,228,301,231,362,233,397,236,330,239,352,242,313,244,384,247,340,250,368,252,324,255,391,258,357,261,305,263,374,266,346,269,319,271,399,274,335,277,361,280,387,282,310,285,353,288,329,290,380,293,343,296,302,299,370,301,394,304,322,307,356,309,338,312,385,315,314,318,364,320,349,323,398,326,307,328,376,331,333,334,360,337,389,339,325,342,345,345,372,347,301,350,393,353,341,356,318,358,365,361,383,364,331,366,354,369,397,372,311,375,370,377,339,380,387,383,322,385,358,388,304,391,377,394,347,396,395,399,328,402,363,404,315,407,386,410,352,413,335,415,399,418,308,421,367,423,343,426,380,429,320,432,356,434,392,437,330,440,302,442,374,445,350,448,389,451,317,453,361,456,337,459,396,461,346,464,311,467,378,470,357,472,326,475,384,478,305,480,365,483,341,486,398,489,322,491,353,494,373,497,314,499,390,502,336,505,360,508,348,510,306,513,382,516,329,518,367,521,396,524,318,527,352,529,339,532,386,535,303,537,371,540,345,543,394,546,325,548,358,551,312,554,379,556,340,559,399,562,331,565,364,567,307,570,388,573,351,575,320,578,375,581,342,584,397,586,315,589,360,592,335,594,383,597,302,600,369,603,348,605,391,608,327,611,355,613,313,616,380,619,344,622,366,624,398,627,321,630,350,632,305,635,386,638,337,641,372,643,358,646,316,649,393,651,333,654,362,657,345,660,384,662,309,665,370,668,326,670,396,673,354,676,301,679,378,681,341,684,389,687,318,689,359,692,332,695,399,698,347,700,312,703,366,706,385,708,323,711,353,714,339,717,392,719,306,722,373,725,344,727,316,730,380,733,357,736,397,738,328,741,364,744,303,746,387,749,349,752,334,755,371,757,395,760,319,763,355,765,342,768,383,771,310,774,368,776,331,779,398,782,351,784,304,787,376,790,345,793,390,795,324,798,360,801,337,803,385,806,314,809,369,812,353,814,396,817,327,820,343,822,302,825,378,828,358,831,320,833,391,836,339,839,366,841,311,844,384,847,348,850,399,852,330,855,362,858,307,860,375,863,352,866,323,869,394,871,341,874,317,877,370,879,388,882,334,885,356,888,305,890,381,893,346,896,397,898,325,901,364,904,312,907,389,909,351,912,336,915,373,917,399,920,319,923,358,926,343,928,384,931,309,934,367,936,330,939,395,942,354,945,301,947,377,950,340,953,391,955,322,958,361,961,348,964,386,966,314,969,370,972,335,974,398,977,357,980,306,983,379,985,344,988,392,991,327,993,363,996,317,998,385];
const fInh2 = [998,347,989,379,981,314,972,396,964,335,955,361,947,305,938,388,930,352,921,327,913,374,904,343,896,399,887,317,879,366,870,338,862,391,853,309,845,357,836,380,828,324,819,346,811,395,802,302,794,369,785,333,777,385,768,351,760,312,751,376,743,340,734,397,726,321,717,362,709,389,700,306,692,353,683,336,675,382,666,315,658,367,649,344,641,399,632,326,624,359,615,386,607,303,598,371,590,337,581,392,573,318,564,355,556,378,547,331,539,398,530,348,522,308,513,364,505,383,496,322,488,341,479,394,471,313,462,369,454,350,445,387,437,305,428,358,420,333,411,376,403,396,394,319,386,345,377,367,369,302,360,390,352,339,343,357,335,381,326,311,318,372,309,329,301,397,292,346,284,363,275,316,267,385,258,335,250,354,241,399,233,307,224,373,216,342,207,388,199,320,190,360,182,331,173,393,165,352,156,304,148,377,139,339,131,384,122,318,114,366,105,345,97,395,88,310,80,359,71,374,63,327,54,389,46,343,37,364,29,306];

const fExc = [25,5,25,38,25,90,26,122,26,200,26,255,27,290,27,160,30,30,34,135,38,245,43,60,48,190,52,100,55,275,58,40,62,230,65,160,68,15,72,250,75,110,77,180,79,165,80,205,82,140,84,95,86,50,88,200,90,145,92,260,95,20,98,120,102,240,106,70,110,180,114,280,118,130,122,45,126,220,130,100,134,190,137,260,140,30,144,165,148,80,152,220,155,215,158,130,162,10,165,285,168,70,172,175,176,120,180,250,184,45,188,165,192,90,196,230,200,150,204,30,208,205,212,110,216,270,220,60,224,190,228,135,232,15,236,245,240,90,244,170,248,280,252,40,256,125,260,210,264,160,268,75,272,225,276,20,280,140,284,260,288,100,292,190,296,275,300,255,302,60,305,170,308,290,311,130,314,45,318,210,322,100,326,165,330,280,333,270,335,260,337,50,340,295,344,185,348,120,352,235,356,30,360,150,364,90,368,255,372,195,376,10,380,135,384,60,388,230,392,170,396,160,398,150,400,95,404,275,408,40,412,200,416,120,420,15,424,245,428,85,432,180,436,130,440,50,444,265,448,160,452,100,456,210,460,30,464,145,468,290,472,70,476,185,480,120,484,250,488,5,492,170,496,80,500,225,504,140,508,30,512,280,516,110,520,200,524,60,528,160,532,20,536,240,540,130,544,90,548,270,552,290,555,295,558,180,562,40,566,120,570,220,574,75,578,150,582,5,586,260,590,100,594,190,598,40,600,45,603,140,606,280,610,60,614,215,618,120,622,175,626,25,630,250,634,95,638,160,642,290,646,50,650,200,654,130,658,70,662,240,666,10,670,170,674,110,678,270,682,35,686,150,690,220,694,85,698,130,702,260,706,50,710,160,714,185,718,190,722,110,726,30,730,240,734,140,738,70,742,280,746,200,750,20,754,120,758,250,762,60,766,170,770,95,774,230,778,10,782,145,786,275,790,80,794,200,798,40,802,120,806,260,810,55,814,180,818,100,822,140,826,160,828,170,830,135,834,25,838,230,842,150,846,80,850,270,854,45,858,190,862,110,866,10,870,220,874,140,878,290,882,60,886,175,890,150,893,160,896,30,900,245,904,105,908,200,912,50,916,270,920,130,924,85,928,210,932,20,936,150,940,235,944,95,948,140,950,155,952,60,956,160,960,280,964,200,968,35,972,120,976,250,980,25,984,180,988,70,992,240,996,140,999,25];

// ---------- build chart ----------
const EXC = '#1f77b4', INH = '#ff7f0e';
function pairs(){ const out=[]; for(const flat of arguments){ for(let i=0;i<flat.length;i+=2) out.push([flat[i]/1000, flat[i+1]]); } return out; }
const panelExc = [pairs(aExc,aExc2),pairs(bExc,bExc2),pairs(cExc,cExc2),pairs(dExc,dExc2),pairs(eExc),pairs(fExc)];
const panelInh = [pairs(aInh,aInh2),pairs(bInh,bInh2),pairs(cInh,cInh2),pairs(dInh,dInh2),pairs(eInh,eInh2),pairs(fInh,fInh2)];
const panelBurst = [burstA,null,burstC,null,burstE,null];

// layout
const rows = [{top:22.7,h:149.3},{top:265,h:153},{top:510.2,h:150.6}];
const cols = [{left:57,w:380,min:-0.018,max:1.048},{left:514,w:381,min:0,max:1}];
const legendPos = [[374,130],[516,130],[374,375],[673,375],[374,618],[673,564]];
const rowMid = [97.5,341,585.5];
const captionY = [218,466,709];

const grids=[],xAxes=[],yAxes=[],series=[],legends=[],gfx=[];
const tickFont = {fontFamily:'Liberation Serif', fontSize:11.5, color:'#808080'};
for(let i=0;i<6;i++){
  const r=rows[Math.floor(i/2)], c=cols[i%2];
  grids.push({left:c.left, top:r.top, width:c.w, height:r.h, show:true, borderColor:'#e3e3e3', borderWidth:1, containLabel:false});
  xAxes.push({type:'value', gridIndex:i, min:c.min, max:c.max,
    axisLine:{show:false}, axisTick:{show:false, customValues:xTicks},
    axisLabel:Object.assign({customValues:xTicks, margin:4, formatter:v=>v.toFixed(1), showMinLabel:true, showMaxLabel:true}, tickFont),
    splitLine:{show:true, lineStyle:{color:'#ebebeb', width:1}}});
  yAxes.push({type:'value', gridIndex:i, min:-20, max:420,
    axisLine:{show:false}, axisTick:{show:false, customValues:yTicks},
    axisLabel:Object.assign({customValues:yTicks, margin:3}, tickFont),
    splitLine:{show:true, lineStyle:{color:'#ebebeb', width:1}}});
  series.push({type:'scatter', name:'Excitatory', xAxisIndex:i, yAxisIndex:i, data:panelExc[i],
    symbol:'circle', symbolSize:3.2, itemStyle:{color:EXC, opacity:0.9}, silent:true, z:2});
  series.push({type:'scatter', name:'Inhibitory', xAxisIndex:i, yAxisIndex:i, data:panelInh[i],
    symbol:'circle', symbolSize:3.2, itemStyle:{color:INH, opacity:0.85}, silent:true, z:2});
  const b=panelBurst[i];
  if(b){
    if(b[1]!==null) series.push({type:'line', name:'burstE'+i, xAxisIndex:i, yAxisIndex:i, data:[[b[0]/1000,b[1]],[b[0]/1000,b[2]]],
      symbol:'none', lineStyle:{color:EXC, width:3, opacity:0.85}, silent:true, z:3});
    series.push({type:'line', name:'burstI'+i, xAxisIndex:i, yAxisIndex:i, data:[[b[0]/1000,b[3]],[b[0]/1000,b[4]]],
      symbol:'none', lineStyle:{color:INH, width:3, opacity:0.8}, silent:true, z:3});
  }
  const lp=legendPos[i];
  legends.push({left:lp[0], top:lp[1], orient:'vertical', data:['Excitatory','Inhibitory'], selectedMode:false,
    icon:'circle', itemWidth:3, itemHeight:3, itemGap:0, itemTextGap:4, padding:[13.5,4,2,3],
    backgroundColor:'rgba(255,255,255,0.8)', borderColor:'#dedede', borderWidth:1, borderRadius:3,
    textStyle:{fontFamily:'Lato', fontSize:12, color:'#262626', lineHeight:13}, z:4});
  gfx.push({type:'text', x:lp[0]+31, y:lp[1]+7.5, z:10, style:{text:'Type', fontFamily:'Lato', fontSize:12, fill:'#262626', align:'center', verticalAlign:'middle'}});
  gfx.push({type:'text', x:c.left+c.w/2, y:r.top-8.5, style:{text:panelTitles[i], fontFamily:'Lato', fontSize:17.5, fill:'#262626', align:'center', verticalAlign:'middle'}});
  gfx.push({type:'text', x:(i%2===0)?12.5:468, y:rowMid[Math.floor(i/2)]+8, style:{text:panelLetters[i], fontFamily:'Lato', fontSize:20, fill:'#262626', align:'center', verticalAlign:'middle'}});
  gfx.push({type:'text', x:(i%2===0)?33:489, y:r.top+r.h/2, rotation:Math.PI/2, style:{text:'Neuron index', fontFamily:'Lato', fontSize:13.5, fill:'#262626', align:'center', verticalAlign:'middle'}});
  gfx.push({type:'text', x:(i%2===0)?443:898, y:r.top+r.h+18.5, style:{text:'Time (s)', fontFamily:'Lato', fontSize:13, fill:'#262626', align:'left', verticalAlign:'middle'}});
}
for(let k=0;k<3;k++){
  gfx.push({type:'text', x:437, y:captionY[k], style:{
    text:'{s|(}{i|α}{s| = '+alphas[k].toFixed(1)+', }{p|param}{s|='+params[k].toFixed(2)+', }{p|KL}{s|='+kls[k].toFixed(2)+')}',
    align:'center', verticalAlign:'middle',
    rich:{s:{fontFamily:'Liberation Serif', fontSize:21, fill:'#262626'},
          i:{fontFamily:'Liberation Serif', fontStyle:'italic', fontSize:21, fill:'#262626'},
          p:{fontFamily:'Lato', fontSize:19, fill:'#262626'}}}});
}
const chart = echarts.init(document.getElementById('c'), null, {renderer:'canvas'});
chart.setOption({animation:false, backgroundColor:'#fff', grid:grids, xAxis:xAxes, yAxis:yAxes, series:series, legend:legends, graphic:{elements:gfx}});
</script></body></html>
